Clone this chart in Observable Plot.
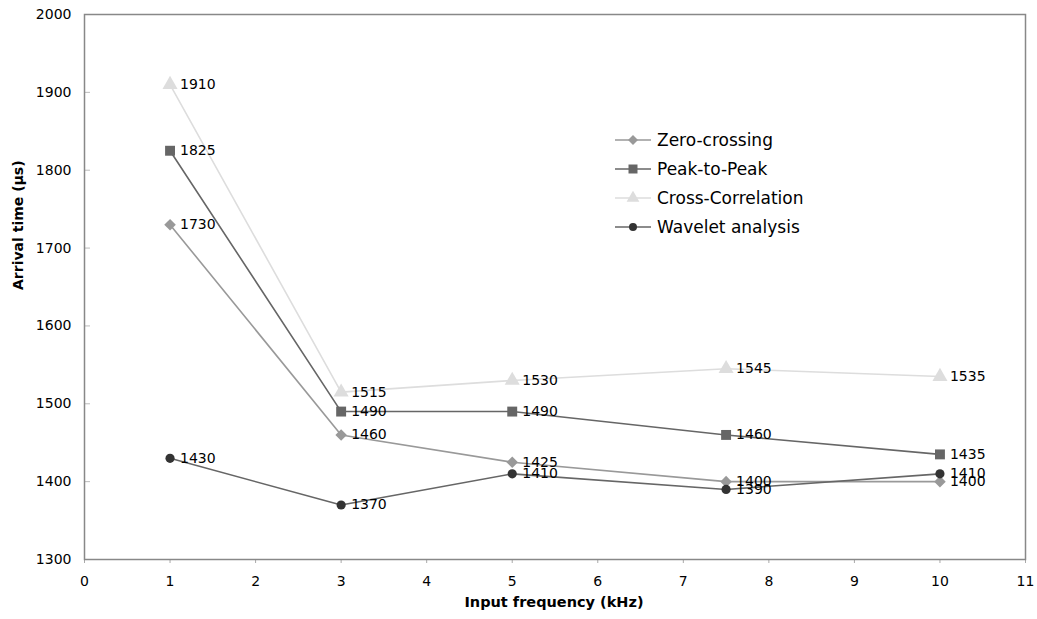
<!DOCTYPE html>
<html>
<head>
<meta charset="utf-8">
<script src="https://cdn.jsdelivr.net/npm/d3@7"></script>
<script src="https://cdn.jsdelivr.net/npm/@observablehq/plot@0.6"></script>
<style>
  html, body { margin: 0; padding: 0; background: #fff; }
  #wrap { position: relative; width: 1037px; height: 619px; font-family: "DejaVu Sans", Verdana, sans-serif; }
  #legend { position: absolute; left: 614px; top: 125px; font-size: 17px; color: #000; }
  #legend .row { display: flex; align-items: center; height: 29px; }
  #legend svg { margin-right: 5px; }
</style>
</head>
<body>
<div id="wrap"></div>
<script>
const frequencies = [1, 3, 5, 7.5, 10];
const seriesNames = ["Zero-crossing", "Peak-to-Peak", "Cross-Correlation", "Wavelet analysis"];
const zeroCrossing = [1730, 1460, 1425, 1400, 1400];
const peakToPeak = [1825, 1490, 1490, 1460, 1435];
const crossCorrelation = [1910, 1515, 1530, 1545, 1535];
const waveletAnalysis = [1430, 1370, 1410, 1390, 1410];
const xTicks = [0, 1, 2, 3, 4, 5, 6, 7, 8, 9, 10, 11];
const yTicks = [1300, 1400, 1500, 1600, 1700, 1800, 1900, 2000];

const styles = {
  "Zero-crossing":     {line: "#999999", mark: "#999999", symbol: "diamond2", r: 5.2},
  "Peak-to-Peak":      {line: "#666666", mark: "#666666", symbol: "square", r: 5.6},
  "Cross-Correlation": {line: "#dddddd", mark: "#dddddd", symbol: "triangle", r: 5.6},
  "Wavelet analysis":  {line: "#666666", mark: "#333333", symbol: "circle", r: 4.6}
};

const valuesBySeries = [zeroCrossing, peakToPeak, crossCorrelation, waveletAnalysis];
const rows = [];
seriesNames.forEach((name, i) => {
  frequencies.forEach((f, j) => rows.push({series: name, freq: f, value: valuesBySeries[i][j]}));
});

const marks = [];
seriesNames.forEach(name => {
  const data = rows.filter(d => d.series === name);
  const s = styles[name];
  marks.push(Plot.line(data, {x: "freq", y: "value", stroke: s.line, strokeWidth: 1.6}));
});
seriesNames.forEach(name => {
  const data = rows.filter(d => d.series === name);
  const s = styles[name];
  marks.push(Plot.dot(data, {x: "freq", y: "value", symbol: () => s.symbol, r: s.r, fill: s.mark, stroke: "none"}));
});
seriesNames.forEach(name => {
  const data = rows.filter(d => d.series === name);
  marks.push(Plot.text(data, {x: "freq", y: "value", text: d => String(d.value), dx: 10, textAnchor: "start", fontSize: 14, fill: "#000"}));
});

const chart = Plot.plot({
  width: 1037,
  height: 619,
  marginLeft: 84,
  marginRight: 12,
  marginTop: 14,
  marginBottom: 60,
  style: {fontFamily: "DejaVu Sans, Verdana, sans-serif", background: "#fff"},
  symbol: {type: "identity"},
  x: {domain: [0, 11], axis: null},
  y: {domain: [1300, 2000], axis: null},
  marks: [
    Plot.ruleY(yTicks.slice(1, -1), {y: d => d, x1: 0, x2: 0.07, stroke: "#bbbbbb"}),
    Plot.axisX(xTicks, {tickSize: 4, tickPadding: 13, fontSize: 14, stroke: "#aaaaaa", fill: "#000", label: null, tickFormat: d => String(d)}),
    Plot.axisY(yTicks, {tickSize: 0, tickPadding: 13, fontSize: 14, fill: "#000", label: null, tickFormat: d => String(d)}),
    Plot.frame({stroke: "#888888", strokeWidth: 1.5}),
    ...marks,
    Plot.text(["Input frequency (kHz)"], {frameAnchor: "bottom", dy: 47, dx: -1, fontWeight: "bold", fontSize: 14.5, fill: "#000"}),
    Plot.text(["Arrival time (µs)"], {frameAnchor: "left", dx: -66, dy: 3, rotate: -90, fontWeight: "bold", fontSize: 14, fill: "#000"})
  ]
});

const wrap = document.getElementById("wrap");
wrap.appendChild(chart);

// Legend (HTML overlay inside the plot area)
const legend = document.createElement("div");
legend.id = "legend";
const symbolPath = {
  "diamond2": d3.symbol(d3.symbolDiamond2, 64)(),
  "square": d3.symbol(d3.symbolSquare, 81)(),
  "triangle": d3.symbol(d3.symbolTriangle, 70)(),
  "circle": d3.symbol(d3.symbolCircle, 50)()
};
seriesNames.forEach(name => {
  const s = styles[name];
  const row = document.createElement("div");
  row.className = "row";
  row.innerHTML = `<svg width="38" height="14" viewBox="0 0 38 14">
      <line x1="1" y1="7" x2="37" y2="7" stroke="${s.line}" stroke-width="1.6"/>
      <path d="${symbolPath[s.symbol]}" transform="translate(19,7)" fill="${s.mark}"/>
    </svg><span>${name}</span>`;
  legend.appendChild(row);
});
wrap.appendChild(legend);
</script>
</body>
</html>
